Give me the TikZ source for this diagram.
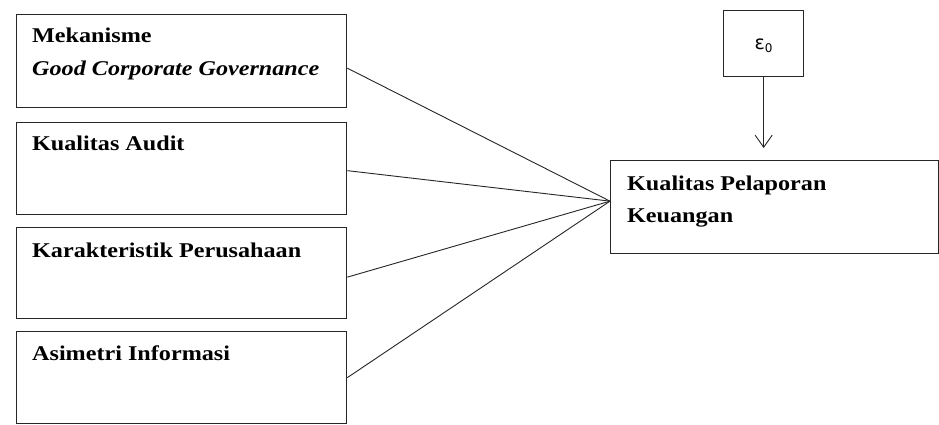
\documentclass[tikz,border=0pt]{standalone}
\usepackage{fontspec}
\setmainfont[FakeStretch=1.15]{Liberation Serif}
\newfontfamily\epsfont{DejaVu Sans}
\usetikzlibrary{arrows.meta,calc}
\tikzset{
  box/.style={draw=black!85, line width=1.3pt, inner sep=0pt, anchor=north west},
  lbl/.style={anchor=base west, inner sep=0pt, font=\fontsize{21}{25}\selectfont\bfseries},
  link/.style={draw=black!85, line width=0.9pt},
}
\begin{document}
\begin{tikzpicture}[x=1pt,y=1pt]
\useasboundingbox[fill=white] (0,0) rectangle (939,-424);
% left boxes
\node[box, minimum width=330pt, minimum height=93pt] (b1) at (16,-14) {};
\node[box, minimum width=330pt, minimum height=92pt] (b2) at (16,-122) {};
\node[box, minimum width=330pt, minimum height=91pt] (b3) at (16,-227) {};
\node[box, minimum width=330pt, minimum height=92pt] (b4) at (16,-331) {};
% right box
\node[box, minimum width=328pt, minimum height=93pt] (out) at (610,-160) {};
% epsilon box
\node[box, minimum width=80pt, minimum height=66pt] (eps) at (723,-10) {};
% labels
\node[lbl] (t1a) at ($(b1.north west)+(16,-28)$) {Mekanisme};
\node[lbl] (t1b) at ($(b1.north west)+(16,-61)$) {\itshape Good Corporate Governance};
\node[lbl] (t2) at ($(b2.north west)+(16,-28)$) {Kualitas Audit};
\node[lbl] (t3) at ($(b3.north west)+(16,-30)$) {Karakteristik Perusahaan};
\node[lbl] (t4) at ($(b4.north west)+(16,-29)$) {Asimetri Informasi};
\node[lbl] (t5a) at ($(out.north west)+(17,-30)$) {Kualitas Pelaporan};
\node[lbl] (t5b) at ($(out.north west)+(17,-62)$) {Keuangan};
\node[inner sep=0pt, font=\epsfont\fontsize{19}{22}\selectfont] (epst) at ($(eps.center)+(0,-2)$) {ε\raisebox{-3pt}{\fontsize{12}{14}\selectfont 0}};
% connectors
\coordinate (conv) at ($(out.west)+(0,6)$);
\draw[link] ($(b1.east)+(0,-7)$) -- (conv);
\draw[link] ($(b2.east)+(0,-2)$) -- (conv);
\draw[link] ($(b3.east)+(0,-4)$) -- (conv);
\draw[link] (b4.east) -- (conv);
\draw[link, -{Straight Barb[length=12pt,width=17pt,line width=0.9pt]}, shorten >=12pt] (eps.south) -- (out.north -| eps.south);
\end{tikzpicture}
\end{document}
